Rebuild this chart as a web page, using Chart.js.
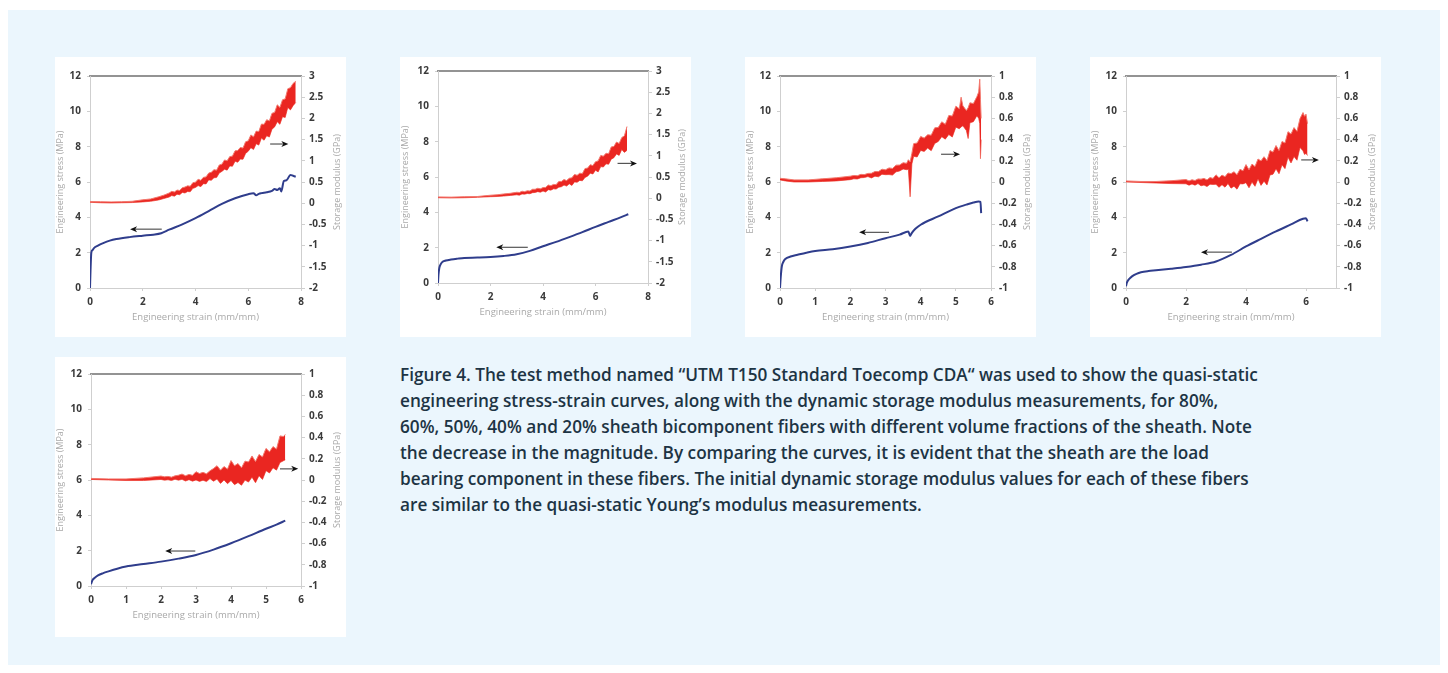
<!DOCTYPE html>
<html>
<head>
<meta charset="utf-8">
<script src="https://cdn.jsdelivr.net/npm/chart.js@4.4.1/dist/chart.umd.min.js"></script>
<style>
  body { margin: 0; background: #ffffff; width: 1448px; height: 673px; position: relative; overflow: hidden; }
  .panel { position: absolute; left: 8px; top: 10px; width: 1432px; height: 655px; background: #ebf6fd; }
  .card { position: absolute; width: 291px; height: 280px; background: #ffffff; }
  .caption {
    position: absolute; left: 400px; top: 362px; white-space: nowrap;
    font-family: "Open Sans", sans-serif; font-weight: 600; font-size: 17.2px; line-height: 26px; color: #1d3444;
  }
</style>
</head>
<body>
<div class="panel"></div>
<div class="card" style="left:55px;top:57px"><canvas id="c1"></canvas></div>
<div class="card" style="left:400px;top:57px"><canvas id="c2"></canvas></div>
<div class="card" style="left:745px;top:57px"><canvas id="c3"></canvas></div>
<div class="card" style="left:1090px;top:57px"><canvas id="c4"></canvas></div>
<div class="card" style="left:55px;top:357px"><canvas id="c5"></canvas></div>
<div class="caption">
Figure 4. The test method named “UTM T150 Standard Toecomp CDA“ was used to show the quasi-static<br>
engineering stress-strain curves, along with the dynamic storage modulus measurements, for 80%,<br>
60%, 50%, 40% and 20% sheath bicomponent fibers with different volume fractions of the sheath. Note<br>
the decrease in the magnitude. By comparing the curves, it is evident that the sheath are the load<br>
bearing component in these fibers. The initial dynamic storage modulus values for each of these fibers<br>
are similar to the quasi-static Young’s modulus measurements.
</div>
<script>
// tick labels
const stressTicks = [0, 2, 4, 6, 8, 10, 12];
const c1XTicks = [0, 2, 4, 6, 8];
const c2XTicks = [0, 2, 4, 6, 8];
const c3XTicks = [0, 1, 2, 3, 4, 5, 6];
const c4XTicks = [0, 2, 4, 6];
const c5XTicks = [0, 1, 2, 3, 4, 5, 6];
const gpaTicksWide = [-2, -1.5, -1, -0.5, 0, 0.5, 1, 1.5, 2, 2.5, 3];
const gpaTicksNarrow = [-1, -0.8, -0.6, -0.4, -0.2, 0, 0.2, 0.4, 0.6, 0.8, 1];

// 80% sheath: storage modulus band (upper / lower edge of the noise), GPa
const c1ModStrain = [0, 0.4, 0.8, 1.2, 1.6, 2.0, 2.3, 2.6, 2.8,
    3.0, 3.1, 3.2, 3.3, 3.4, 3.5, 3.6, 3.7, 3.8, 3.9, 4.0, 4.1, 4.2, 4.3, 4.4, 4.5, 4.6, 4.7, 4.8, 4.9,
    5.0, 5.1, 5.2, 5.3, 5.4, 5.5, 5.6, 5.7, 5.8, 5.9, 6.0, 6.1, 6.2, 6.3, 6.4, 6.5, 6.6, 6.7, 6.8, 6.9,
    7.0, 7.1, 7.2, 7.3, 7.4, 7.5, 7.6, 7.7, 7.8];
const c1ModHigh = [0.04, 0.035, 0.03, 0.035, 0.045, 0.08, 0.10, 0.15, 0.19,
    0.24, 0.28, 0.265, 0.31, 0.30, 0.365, 0.38, 0.41, 0.40, 0.485, 0.495, 0.565, 0.54, 0.61, 0.62, 0.71, 0.73, 0.79, 0.78, 0.90,
    0.92, 1.02, 1.00, 1.10, 1.11, 1.235, 1.24, 1.315, 1.30, 1.45, 1.47, 1.61, 1.565, 1.70, 1.69, 1.865, 1.86, 1.97, 1.94, 2.12,
    2.14, 2.32, 2.26, 2.44, 2.46, 2.70, 2.725, 2.825, 2.875];
const c1ModLow = [0.02, 0.01, 0.005, 0.01, 0.015, 0.03, 0.045, 0.075, 0.11,
    0.145, 0.18, 0.165, 0.21, 0.20, 0.255, 0.24, 0.275, 0.27, 0.35, 0.37, 0.415, 0.39, 0.46, 0.455, 0.55, 0.54, 0.60, 0.605, 0.71,
    0.75, 0.80, 0.78, 0.88, 0.87, 0.99, 0.965, 1.04, 1.035, 1.175, 1.225, 1.31, 1.265, 1.40, 1.37, 1.535, 1.485, 1.59, 1.56, 1.745,
    1.80, 1.92, 1.86, 2.04, 2.02, 2.26, 2.20, 2.30, 2.375];
// 80% sheath: engineering stress, MPa
const c1Strain = [0, 0.02, 0.05, 0.1, 0.15, 0.3, 0.5, 0.75, 1, 1.5, 2, 2.4, 2.7, 3, 3.5, 4, 4.5, 5, 5.5, 6, 6.2, 6.3, 6.4, 6.5, 6.7, 6.9, 7.0, 7.1, 7.2, 7.25, 7.35, 7.45, 7.6, 7.7, 7.8];
const c1Stress = [0, 1.0, 2.0, 2.15, 2.26, 2.4, 2.54, 2.68, 2.77, 2.88, 2.96, 3.02, 3.1, 3.3, 3.6, 3.95, 4.35, 4.76, 5.08, 5.31, 5.36, 5.25, 5.33, 5.37, 5.42, 5.5, 5.6, 5.55, 5.65, 5.46, 6.06, 6.1, 6.4, 6.35, 6.3];

// 60% sheath
const c2ModStrain = [0, 0.5, 1, 1.5, 2, 2.25, 2.5, 2.75,
    3.0, 3.1, 3.2, 3.3, 3.4, 3.5, 3.6, 3.7, 3.8, 3.9, 4.0, 4.1, 4.2, 4.3, 4.4, 4.5, 4.6, 4.7, 4.8, 4.9,
    5.0, 5.1, 5.2, 5.3, 5.4, 5.5, 5.6, 5.7, 5.8, 5.9, 6.0, 6.1, 6.2, 6.3, 6.4, 6.5, 6.6, 6.7, 6.8, 6.9,
    7.0, 7.1, 7.2];
const c2ModHigh = [0.03, 0.025, 0.035, 0.04, 0.07, 0.08, 0.10, 0.115,
    0.14, 0.135, 0.165, 0.155, 0.175, 0.17, 0.21, 0.21, 0.235, 0.22, 0.25, 0.255, 0.31, 0.295, 0.325, 0.32, 0.395, 0.395, 0.44, 0.415,
    0.47, 0.48, 0.56, 0.54, 0.59, 0.58, 0.70, 0.71, 0.79, 0.77, 0.86, 0.88, 1.01, 0.99, 1.06, 1.05, 1.21, 1.22, 1.325, 1.29,
    1.43, 1.47, 1.69];
const c2ModLow = [0.01, 0.005, 0.01, 0.02, 0.035, 0.04, 0.05, 0.065,
    0.08, 0.07, 0.10, 0.095, 0.11, 0.105, 0.13, 0.135, 0.155, 0.14, 0.17, 0.145, 0.20, 0.19, 0.22, 0.215, 0.26, 0.27, 0.31, 0.285,
    0.34, 0.30, 0.385, 0.375, 0.42, 0.41, 0.49, 0.52, 0.59, 0.57, 0.66, 0.62, 0.745, 0.735, 0.81, 0.80, 0.92, 0.955, 1.045, 1.01,
    1.15, 1.08, 1.13];
const c2Strain = [0, 0.02, 0.05, 0.1, 0.15, 0.3, 0.5, 0.75, 1, 1.5, 2, 2.5, 3, 3.5, 4, 4.5, 5, 5.5, 6, 6.5, 7, 7.25];
const c2Stress = [0, 0.5, 0.85, 1.05, 1.17, 1.27, 1.33, 1.38, 1.42, 1.44, 1.47, 1.53, 1.63, 1.82, 2.08, 2.33, 2.6, 2.88, 3.18, 3.46, 3.74, 3.89];

// 50% sheath
const c3ModStrain = [0, 0.15, 0.4, 0.8, 1.2, 1.6,
    2.0, 2.1, 2.2, 2.3, 2.4, 2.5, 2.6, 2.7, 2.8, 2.9, 3.0, 3.1, 3.2, 3.3, 3.4, 3.5, 3.6, 3.65, 3.7, 3.75,
    3.8, 3.9, 4.0, 4.1, 4.2, 4.3, 4.4, 4.5, 4.6, 4.7, 4.8, 4.9, 5.0, 5.1, 5.15, 5.2, 5.3, 5.35, 5.4, 5.5, 5.6,
    5.65, 5.68, 5.7, 5.72];
const c3ModHigh = [0.035, 0.03, 0.02, 0.02, 0.03, 0.04,
    0.055, 0.062, 0.059, 0.072, 0.07, 0.081, 0.082, 0.099, 0.098, 0.121, 0.115, 0.133, 0.128, 0.159, 0.16, 0.182, 0.176, 0.21, 0.19, 0.27,
    0.362, 0.368, 0.43, 0.414, 0.446, 0.442, 0.511, 0.515, 0.568, 0.544, 0.628, 0.622, 0.715, 0.691, 0.80, 0.719, 0.674, 0.70, 0.747, 0.74, 0.806,
    0.85, 0.97, 0.78, 0.60];
const c3ModLow = [0.02, 0.01, 0, 0, 0.005, 0.01,
    0.022, 0.03, 0.028, 0.04, 0.042, 0.051, 0.038, 0.055, 0.049, 0.073, 0.069, 0.07, 0.065, 0.096, 0.103, 0.122, 0.116, 0.12, -0.14, 0.17,
    0.242, 0.236, 0.298, 0.288, 0.32, 0.295, 0.364, 0.382, 0.428, 0.404, 0.448, 0.424, 0.517, 0.502, 0.52, 0.53, 0.485, 0.41, 0.558, 0.569, 0.626,
    0.60, 0.55, 0.22, 0.40];
const c3Strain = [0, 0.02, 0.05, 0.1, 0.15, 0.3, 0.5, 0.75, 1, 1.5, 2, 2.5, 3, 3.4, 3.65, 3.7, 3.75, 3.85, 4, 4.5, 5, 5.3, 5.5, 5.65, 5.7, 5.72];
const c3Stress = [0, 0.6, 1.2, 1.5, 1.64, 1.78, 1.88, 2.0, 2.1, 2.2, 2.35, 2.55, 2.82, 3.02, 3.2, 2.95, 3.12, 3.35, 3.58, 4.05, 4.52, 4.72, 4.84, 4.9, 4.88, 4.24];

// 40% sheath
const c4ModStrain = [0, 0.5, 1, 1.5,
    2.0, 2.1, 2.2, 2.3, 2.4, 2.5, 2.6, 2.7, 2.8, 2.9, 3.0, 3.1, 3.2, 3.3, 3.4, 3.5, 3.6, 3.7, 3.8, 3.9,
    4.0, 4.1, 4.2, 4.3, 4.4, 4.5, 4.6, 4.7, 4.8, 4.9, 5.0, 5.1, 5.2, 5.3, 5.4, 5.5, 5.6, 5.7, 5.8, 5.9,
    5.95, 6.0, 6.05];
const c4ModHigh = [0.01, 0.005, 0.005, 0.012,
    0.023, 0.01, 0.021, 0.014, 0.029, 0.027, 0.034, 0.02, 0.042, 0.034, 0.068, 0.04, 0.065, 0.05, 0.085, 0.079, 0.097, 0.069, 0.12, 0.105,
    0.164, 0.116, 0.169, 0.146, 0.217, 0.199, 0.239, 0.202, 0.297, 0.282, 0.344, 0.297, 0.382, 0.368, 0.475, 0.452, 0.513, 0.478, 0.599, 0.655,
    0.62, 0.64, 0.55];
const c4ModLow = [0, -0.005, -0.01, -0.015,
    -0.017, -0.03, -0.019, -0.03, -0.015, -0.036, -0.029, -0.043, -0.021, -0.023, -0.022, -0.05, -0.025, -0.049, -0.015, -0.058, -0.04, -0.068, -0.017, -0.018,
    -0.006, -0.055, -0.001, -0.041, 0.03, -0.032, 0.008, -0.029, 0.066, 0.073, 0.124, 0.077, 0.162, 0.126, 0.233, 0.179, 0.24, 0.205, 0.326, 0.294,
    0.26, 0.27, 0.25];
const c4Strain = [0, 0.02, 0.05, 0.1, 0.2, 0.35, 0.5, 0.75, 1, 1.5, 2, 2.5, 3, 3.5, 4, 4.5, 5, 5.5, 5.9, 6.0, 6.05];
const c4Stress = [0.1, 0.25, 0.38, 0.5, 0.66, 0.8, 0.89, 0.96, 1.0, 1.09, 1.19, 1.32, 1.5, 1.87, 2.35, 2.78, 3.2, 3.6, 3.92, 3.95, 3.77];

// 20% sheath
const c5ModStrain = [0, 0.5, 1, 1.5,
    2.0, 2.1, 2.2, 2.3, 2.4, 2.5, 2.6, 2.7, 2.8, 2.9, 3.0, 3.1, 3.2, 3.3, 3.4, 3.5, 3.6, 3.7, 3.8, 3.9,
    4.0, 4.1, 4.2, 4.3, 4.4, 4.5, 4.6, 4.7, 4.8, 4.9, 5.0, 5.1, 5.2, 5.3, 5.4, 5.5, 5.55];
const c5ModHigh = [0.015, 0.01, 0.01, 0.02,
    0.037, 0.03, 0.034, 0.027, 0.039, 0.045, 0.056, 0.04, 0.053, 0.044, 0.078, 0.061, 0.072, 0.058, 0.087, 0.108, 0.135, 0.093, 0.127, 0.103,
    0.183, 0.135, 0.155, 0.115, 0.178, 0.17, 0.227, 0.174, 0.241, 0.218, 0.298, 0.266, 0.315, 0.292, 0.416, 0.41, 0.43];
const c5ModLow = [0.005, 0, -0.005, -0.005,
    0.005, -0.002, 0.002, -0.005, 0.007, -0.002, 0.006, -0.01, 0.003, -0.011, 0, -0.013, -0.002, -0.015, 0.013, -0.012, 0.009, -0.033, 0.001, -0.035,
    -0.005, -0.044, -0.024, -0.05, -0.001, -0.02, 0.027, -0.026, 0.041, 0.005, 0.088, 0.066, 0.115, 0.093, 0.164, 0.182, 0.19];
const c5Strain = [0, 0.02, 0.05, 0.1, 0.2, 0.35, 0.5, 0.75, 1, 1.5, 2, 2.5, 3, 3.5, 4, 4.5, 5, 5.3, 5.55];
const c5Stress = [0.1, 0.22, 0.35, 0.45, 0.6, 0.73, 0.83, 0.98, 1.1, 1.24, 1.38, 1.55, 1.76, 2.06, 2.42, 2.82, 3.24, 3.47, 3.7];

const pairs = (xs, ys) => xs.map((x, i) => ({ x: x, y: ys[i] }));

// arrows drawn in data units: [fromStrain, fromStress, toStrain, toStress]
const arrowPlugin = {
    id: 'arrows',
    afterDatasetsDraw(chart, args, opts) {
        const ctx = chart.ctx;
        const sx = chart.scales.x, sy = chart.scales.y;
        (opts.list || []).forEach(a => {
            const x0 = sx.getPixelForValue(a[0]), y0 = sy.getPixelForValue(a[1]);
            const x1 = sx.getPixelForValue(a[2]), y1 = sy.getPixelForValue(a[3]);
            const dir = x1 > x0 ? 1 : -1;
            ctx.save();
            ctx.strokeStyle = '#555';
            ctx.lineWidth = 1.2;
            ctx.beginPath();
            ctx.moveTo(x0, y0);
            ctx.lineTo(x1 - dir * 4, y1);
            ctx.stroke();
            ctx.fillStyle = '#111';
            ctx.beginPath();
            ctx.moveTo(x1, y1);
            ctx.lineTo(x1 - dir * 7, y1 - 3);
            ctx.lineTo(x1 - dir * 5, y1);
            ctx.lineTo(x1 - dir * 7, y1 + 3);
            ctx.closePath();
            ctx.fill();
            ctx.restore();
        });
    }
};

// right axis title reads bottom-to-top like the left one
const rightTitlePlugin = {
    id: 'rightTitle',
    afterDraw(chart, args, opts) {
        const s = chart.scales.y2, a = chart.chartArea, ctx = chart.ctx;
        ctx.save();
        ctx.translate(s.right - 8.5, (a.top + a.bottom) / 2);
        ctx.rotate(-Math.PI / 2);
        ctx.font = '9px "Open Sans"';
        ctx.fillStyle = '#a9a9a9';
        ctx.textAlign = 'center';
        ctx.textBaseline = 'middle';
        ctx.fillText(opts.text, 0, 0);
        ctx.restore();
    }
};

const tickFont = { family: 'Open Sans', size: 10, weight: '700' };

function setTicks(values) {
    return s => { s.ticks = values.map(v => ({ value: v })); };
}

function makeChart(id, c) {
    return new Chart(document.getElementById(id), {
        type: 'line',
        data: {
            datasets: [
                {
                    data: pairs(c.modStrain, c.modHigh), yAxisID: 'y2', fill: '+1',
                    backgroundColor: '#ea2621', borderColor: '#f2786d', borderWidth: 1, pointRadius: 0, tension: 0
                },
                {
                    data: pairs(c.modStrain, c.modLow), yAxisID: 'y2', fill: false,
                    borderColor: '#f2786d', borderWidth: 1, pointRadius: 0, tension: 0
                },
                {
                    data: pairs(c.strain, c.stress), yAxisID: 'y', fill: false,
                    borderColor: '#2f3d8c', borderWidth: 2, pointRadius: 0, cubicInterpolationMode: 'monotone'
                }
            ]
        },
        options: {
            responsive: true,
            maintainAspectRatio: false,
            animation: false,
            devicePixelRatio: 1,
            layout: { padding: { top: c.pad[0], left: 0, right: 0, bottom: c.pad[1] } },
            plugins: {
                legend: { display: false },
                tooltip: { enabled: false },
                arrows: { list: c.arrows },
                rightTitle: { text: 'Storage modulus (GPa)' }
            },
            scales: {
                x: {
                    type: 'linear', position: 'bottom', min: 0, max: c.xMax,
                    afterBuildTicks: setTicks(c.xTicks),
                    afterFit: s => { s.height = 35; },
                    grid: { drawOnChartArea: false, drawTicks: true, tickLength: 3, color: '#cfcfcf' },
                    border: { display: true, color: '#cfcfcf', width: 1 },
                    ticks: { font: tickFont, color: '#3a3a3a', padding: 5, maxRotation: 0, callback: v => String(v) },
                    title: { display: true, text: 'Engineering strain (mm/mm)', font: { family: 'Open Sans', size: 9.5 }, color: '#a9a9a9', padding: 0 }
                },
                xTop: {
                    type: 'linear', position: 'top', min: 0, max: 1,
                    afterFit: s => { s.height = 0; },
                    grid: { display: false },
                    ticks: { display: false },
                    border: { display: true, color: '#939393', width: 2 }
                },
                y: {
                    type: 'linear', position: 'left', min: 0, max: 12,
                    afterBuildTicks: setTicks(stressTicks),
                    afterFit: s => { s.width = c.yW; },
                    grid: { drawOnChartArea: false, drawTicks: true, tickLength: 3, color: '#cfcfcf' },
                    border: { display: true, color: '#cfcfcf', width: 1 },
                    ticks: { font: tickFont, color: '#3a3a3a', padding: 6, callback: v => String(v) },
                    title: { display: true, text: 'Engineering stress (MPa)', font: { family: 'Open Sans', size: 9 }, color: '#a9a9a9', padding: 0 }
                },
                y2: {
                    type: 'linear', position: 'right', min: c.y2Ticks[0], max: c.y2Ticks[c.y2Ticks.length - 1],
                    afterBuildTicks: setTicks(c.y2Ticks),
                    afterFit: s => { s.width = c.y2W; },
                    grid: { drawOnChartArea: false, drawTicks: true, tickLength: 4, color: '#cfcfcf' },
                    border: { display: true, color: '#cfcfcf', width: 1 },
                    ticks: { font: tickFont, color: '#3a3a3a', padding: 4, callback: v => String(v) }
                }
            }
        },
        plugins: [arrowPlugin, rightTitlePlugin]
    });
}

makeChart('c1', {
    modStrain: c1ModStrain, modHigh: c1ModHigh, modLow: c1ModLow, strain: c1Strain, stress: c1Stress,
    xMax: 8, xTicks: c1XTicks, y2Ticks: gpaTicksWide,
    pad: [19, 14], yW: 35, y2W: 45,
    arrows: [[2.72, 3.33, 1.52, 3.33], [6.83, 8.15, 7.52, 8.15]]
});
makeChart('c2', {
    modStrain: c2ModStrain, modHigh: c2ModHigh, modLow: c2ModLow, strain: c2Strain, stress: c2Stress,
    xMax: 8, xTicks: c2XTicks, y2Ticks: gpaTicksWide,
    pad: [14, 19], yW: 38, y2W: 43,
    arrows: [[3.42, 2.02, 2.22, 2.02], [6.84, 6.77, 7.58, 6.77]]
});
makeChart('c3', {
    modStrain: c3ModStrain, modHigh: c3ModHigh, modLow: c3ModLow, strain: c3Strain, stress: c3Stress,
    xMax: 6, xTicks: c3XTicks, y2Ticks: gpaTicksNarrow,
    pad: [19, 14], yW: 35, y2W: 45,
    arrows: [[3.1, 3.15, 2.25, 3.15], [4.58, 7.57, 5.12, 7.57]]
});
makeChart('c4', {
    modStrain: c4ModStrain, modHigh: c4ModHigh, modLow: c4ModLow, strain: c4Strain, stress: c4Stress,
    xMax: 7, xTicks: c4XTicks, y2Ticks: gpaTicksNarrow,
    pad: [19, 14], yW: 36, y2W: 45,
    arrows: [[3.53, 2.03, 2.5, 2.03], [5.84, 7.25, 6.43, 7.25]]
});
makeChart('c5', {
    modStrain: c5ModStrain, modHigh: c5ModHigh, modLow: c5ModLow, strain: c5Strain, stress: c5Stress,
    xMax: 6, xTicks: c5XTicks, y2Ticks: gpaTicksNarrow,
    pad: [17, 16], yW: 36, y2W: 45,
    arrows: [[2.98, 1.98, 2.12, 1.98], [5.4, 6.63, 5.92, 6.63]]
});
</script>
</body>
</html>
